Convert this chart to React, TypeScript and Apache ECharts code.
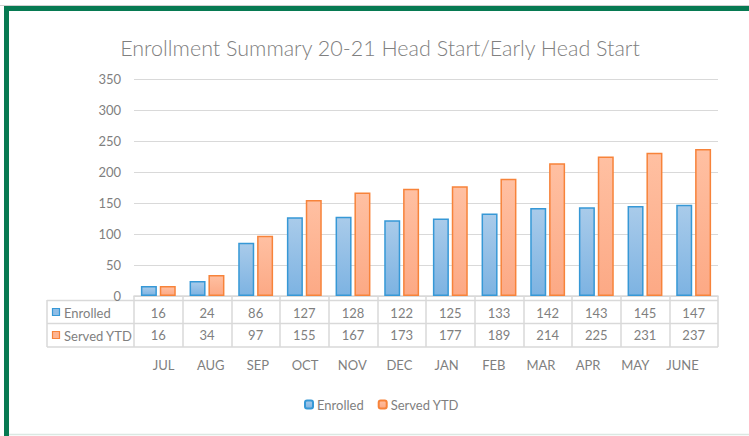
import React, { useEffect, useRef } from "react";
import * as echarts from "echarts";

const months = ["JUL", "AUG", "SEP", "OCT", "NOV", "DEC", "JAN", "FEB", "MAR", "APR", "MAY", "JUNE"];
const enrolled = [16, 24, 86, 127, 128, 122, 125, 133, 142, 143, 145, 147];
const servedYTD = [16, 34, 97, 155, 167, 173, 177, 189, 214, 225, 231, 237];
const seriesNames = ["Enrolled", "Served YTD"];
const titleText = "Enrollment Summary 20-21 Head Start/Early Head Start";

const FONT = "Lato, 'Open Sans', sans-serif";
const TXT = "#7f7f7f";
const LINE = "#d9d9d9";

export default function App() {
  const ref = useRef<HTMLDivElement>(null);
  useEffect(() => {
    if (!ref.current) return;
    const chart = echarts.init(ref.current, null, { renderer: "svg" });
    const blueFill = new echarts.graphic.LinearGradient(0, 0, 0, 1, [
      { offset: 0, color: "#a9cbea" },
      { offset: 1, color: "#7db3e2" },
    ]);
    const orangeFill = new echarts.graphic.LinearGradient(0, 0, 0, 1, [
      { offset: 0, color: "#ffc0a2" },
      { offset: 1, color: "#fca985" },
    ]);
    const tableAxis = (vals: (string | number)[], margin: number, gridIndex = 0) => ({
      type: "category",
      gridIndex,
      data: months,
      position: "bottom",
      axisLine: { show: false },
      axisTick: { show: false },
      splitLine: { show: false },
      axisLabel: {
        interval: 0,
        margin,
        color: TXT,
        fontSize: 13,
        fontFamily: FONT,
        formatter: (_v: string, i: number) => String(vals[i]),
      },
    });
    chart.setOption({
      animation: false,
      backgroundColor: "#ffffff",
      textStyle: { fontFamily: FONT },
      title: {
        text: titleText,
        left: 375,
        textAlign: "center",
        top: 32,
        textStyle: { color: "#808080", fontSize: 21.5, fontWeight: 300, fontFamily: FONT },
      },
      grid: [
        { left: 134, right: 31, top: 79, bottom: 140, containLabel: false },
        { left: 140, right: 43, top: 79, bottom: 140, containLabel: false },
      ],
      legend: {
        data: seriesNames,
        left: 299,
        top: 393,
        itemWidth: 8,
        itemHeight: 8,
        itemGap: 14,
        textStyle: { color: TXT, fontSize: 13, fontFamily: FONT, padding: [0, 0, 0, -1] },
      },
      xAxis: [
        {
          type: "category",
          data: months,
          axisLine: { show: true, lineStyle: { color: LINE, width: 1.5 } },
          axisTick: { show: true, length: 51, interval: 0, lineStyle: { color: LINE, width: 1.5 } },
          axisLabel: { show: false },
        },
        tableAxis(enrolled, 10),
        tableAxis(servedYTD, 32),
        tableAxis(months, 62, 1),
      ],
      yAxis: [
        {
          type: "value",
          min: 0,
          max: 350,
          interval: 50,
          axisLine: { show: false },
          axisTick: { show: false },
          splitLine: { lineStyle: { color: LINE, width: 1 } },
          axisLabel: { color: TXT, fontSize: 13, fontFamily: FONT, margin: 13 },
        },
        {
          type: "value",
          gridIndex: 1,
          min: 0,
          max: 350,
          show: false,
        },
      ],
      series: [
        {
          name: seriesNames[0],
          type: "bar",
          data: enrolled,
          barWidth: 16,
          barGap: "18%",
          itemStyle: { color: blueFill, borderColor: "#3698d6", borderWidth: 1.5 },
        },
        {
          name: seriesNames[1],
          type: "bar",
          data: servedYTD,
          barWidth: 16,
          itemStyle: { color: orangeFill, borderColor: "#f7833a", borderWidth: 1.5 },
        },
      ],
      graphic: [
        { type: "rect", shape: { x: 0, y: 5, width: 749, height: 1 }, style: { fill: "#d0d0d0" }, silent: true },
        { type: "rect", shape: { x: 4, y: 6, width: 745, height: 5 }, style: { fill: "#077a52" }, silent: true },
        { type: "rect", shape: { x: 4, y: 6, width: 5, height: 430 }, style: { fill: "#077a52" }, silent: true },
        { type: "line", shape: { x1: 9, y1: 434.5, x2: 749, y2: 434.5 }, style: { stroke: "#dbe8e2", lineWidth: 1.5 }, silent: true },
        { type: "line", shape: { x1: 47, y1: 300.5, x2: 718, y2: 300.5 }, style: { stroke: LINE, lineWidth: 1.5 }, silent: true },
        { type: "line", shape: { x1: 47, y1: 323.5, x2: 718, y2: 323.5 }, style: { stroke: LINE, lineWidth: 1.5 }, silent: true },
        { type: "line", shape: { x1: 47, y1: 347, x2: 718, y2: 347 }, style: { stroke: LINE, lineWidth: 1.5 }, silent: true },
        { type: "line", shape: { x1: 47, y1: 300, x2: 47, y2: 347 }, style: { stroke: LINE, lineWidth: 1.5 }, silent: true },
        { type: "rect", shape: { x: 52.5, y: 308.5, width: 7, height: 7 }, style: { fill: "#8fbde6", stroke: "#3698d6", lineWidth: 1.2 }, silent: true },
        { type: "text", x: 64, y: 312.5, style: { text: seriesNames[0], fill: TXT, fontSize: 13, fontFamily: FONT, verticalAlign: "middle" }, silent: true },
        { type: "rect", shape: { x: 52.5, y: 331.5, width: 7, height: 7 }, style: { fill: "#fdb491", stroke: "#f7833a", lineWidth: 1.2 }, silent: true },
        { type: "text", x: 64, y: 335.5, style: { text: seriesNames[1], fill: TXT, fontSize: 13, fontFamily: FONT, verticalAlign: "middle" }, silent: true },
      ],
    });
    return () => chart.dispose();
  }, []);
  return <div ref={ref} style={{ position: "fixed", left: 0, top: 0, width: 749, height: 436 }} />;
}
